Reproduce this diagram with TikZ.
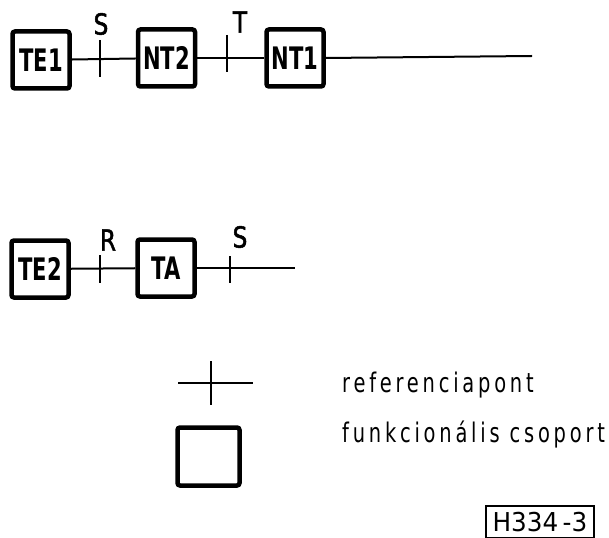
\documentclass[tikz,border=0pt]{standalone}
\usepackage{fontspec}
\setmainfont{DejaVu Sans}[FakeStretch=0.72]
\newfontfamily\boxfont{DejaVu Sans Bold}[FakeStretch=0.68]
\newfontfamily\lblfont{DejaVu Sans}[FakeStretch=0.8,FakeBold=1.5]
\newfontfamily\legfont{DejaVu Sans}[FakeStretch=0.72,LetterSpace=14]
\newfontfamily\tagfont{DejaVu Sans}[FakeStretch=0.95]
\begin{document}
\begin{tikzpicture}[x=1pt,y=-1pt,
  fbox/.style={draw,line width=4.5pt,rounded corners=2.5pt,minimum width=57pt,minimum height=57pt,inner sep=0pt,font=\boxfont\fontsize{31}{31}\selectfont},
  wire/.style={line width=2pt},
  tick/.style={line width=2pt},
  lbl/.style={inner sep=0pt,font=\lblfont\fontsize{29}{29}\selectfont},
  legtxt/.style={inner sep=0pt,anchor=west,font=\legfont\fontsize{27}{27}\selectfont}]
\useasboundingbox (0,0) rectangle (609,537);
% row 1
\node[fbox] (te1) at (41,60) {TE1};
\node[fbox] (nt2) at (166.5,58) {NT2};
\node[fbox] (nt1) at (295,58) {NT1};
\coordinate (end1) at (532,56);
\draw[wire] (te1) -- (nt2);
\draw[wire] (nt2) -- (nt1);
\draw[wire] (nt1.east |- 0,58) -- (end1);
\coordinate (s1a) at (100,40); \coordinate (s1b) at (100,77);
\coordinate (t1a) at (227,35); \coordinate (t1b) at (227,72);
\draw[tick] (s1a) -- (s1b);
\draw[tick] (t1a) -- (t1b);
\node[lbl] (lS1) at (101,24) {S};
\node[lbl] (lT1) at (240,22) {T};
% row 2
\node[fbox] (te2) at (40,269) {TE2};
\node[fbox] (ta) at (166,268) {TA};
\coordinate (end2) at (295,268);
\draw[wire] (te2) -- (ta);
\draw[wire] (ta) -- (end2);
\coordinate (r2a) at (100,255); \coordinate (r2b) at (100,283);
\coordinate (s2a) at (230,256); \coordinate (s2b) at (230,283);
\draw[tick] (r2a) -- (r2b);
\draw[tick] (s2a) -- (s2b);
\node[lbl] (lR2) at (108,240) {R};
\node[lbl] (lS2) at (240,237) {S};
% legend
\coordinate (ch1) at (178,383); \coordinate (ch2) at (253,383);
\coordinate (cv1) at (211,361); \coordinate (cv2) at (211,405);
\draw[wire] (ch1) -- (ch2);
\draw[tick] (cv1) -- (cv2);
\node[fbox,minimum width=62pt,minimum height=58pt] (legbox) at (208.5,456.5) {};
\node[legtxt] (t1) at (342,385) {referenciapont};
\node[legtxt] (t2) at (342,435) {funkcionális csoport};
% tag
\node[draw,line width=1.5pt,inner sep=0pt,minimum width=108pt,minimum height=32pt,font=\tagfont\fontsize{26}{26}\selectfont] (tag) at (540,522) {H334\,-3};
\end{tikzpicture}
\end{document}
